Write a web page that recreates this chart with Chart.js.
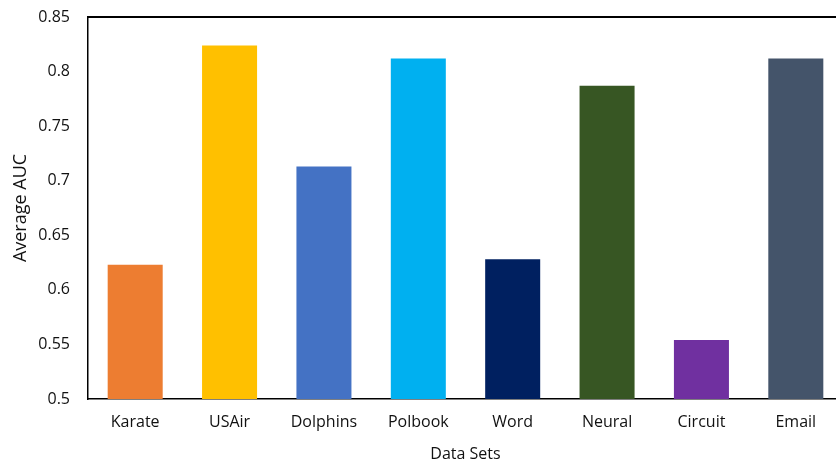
<!DOCTYPE html>
<html>
<head>
<meta charset="utf-8">
<script src="https://cdn.jsdelivr.net/npm/chart.js@4"></script>
<style>
  html, body { margin: 0; padding: 0; background: #fff; overflow: hidden; }
  #wrap { position: relative; width: 843px; height: 464px; }
</style>
</head>
<body>
<div id="wrap"><canvas id="chart"></canvas></div>
<script>
// Average AUC per data set
const categories = ['Karate', 'USAir', 'Dolphins', 'Polbook', 'Word', 'Neural', 'Circuit', 'Email'];
const aucValues = [0.623, 0.824, 0.713, 0.812, 0.628, 0.787, 0.554, 0.812];
const barColors = ['#ED7D31', '#FFC000', '#4472C4', '#00B0F0', '#002060', '#375623', '#7030A0', '#44546A'];
const yTicks = [0.5, 0.55, 0.6, 0.65, 0.7, 0.75, 0.8, 0.85];

const FONT = '"Open Sans", Lato, sans-serif';
const TEXT = '#111';

// frame line along the top of the plot area
const topFrame = {
  id: 'topFrame',
  afterDraw(chart) {
    const { ctx, chartArea } = chart;
    ctx.save();
    ctx.strokeStyle = '#000';
    ctx.lineWidth = 2;
    ctx.beginPath();
    ctx.moveTo(chartArea.left, chartArea.top);
    ctx.lineTo(chartArea.right + 10, chartArea.top);
    ctx.stroke();
    ctx.restore();
  }
};

new Chart(document.getElementById('chart'), {
  type: 'bar',
  data: {
    labels: categories,
    datasets: [{
      label: 'Average AUC',
      data: aucValues,
      backgroundColor: barColors,
      borderWidth: 0,
      barPercentage: 0.583,
      categoryPercentage: 1.0
    }]
  },
  options: {
    responsive: true,
    maintainAspectRatio: false,
    animation: false,
    layout: { padding: { top: 17, right: 0, bottom: 0, left: 0 } },
    plugins: {
      legend: { display: false },
      tooltip: { enabled: false }
    },
    scales: {
      x: {
        grid: { display: false, drawTicks: false },
        border: { display: true, color: '#000', width: 1.5 },
        ticks: { color: TEXT, font: { family: FONT, size: 16 }, padding: 14 },
        title: { display: true, text: 'Data Sets', color: TEXT, font: { family: FONT, size: 16 }, padding: { top: 4, bottom: 0 } },
        afterFit(scale) {
          scale.height = 65;
          scale.paddingLeft = 0;
          scale.paddingRight = 0;
        }
      },
      y: {
        min: 0.5,
        max: 0.85,
        afterBuildTicks(scale) { scale.ticks = yTicks.map(v => ({ value: v })); },
        grid: { display: false, drawTicks: false },
        border: { display: true, color: '#000', width: 1.5 },
        ticks: {
          color: TEXT,
          font: { family: FONT, size: 16 },
          padding: 18,
          callback: v => String(+v.toFixed(2))
        },
        title: { display: true, text: 'Average AUC', color: TEXT, font: { family: FONT, size: 18 }, padding: { top: 10, bottom: 0 } },
        afterFit(scale) {
          scale.width = 88;
          scale.paddingTop = 0;
          scale.paddingBottom = 0;
        }
      }
    }
  },
  plugins: [topFrame]
});
</script>
</body>
</html>
